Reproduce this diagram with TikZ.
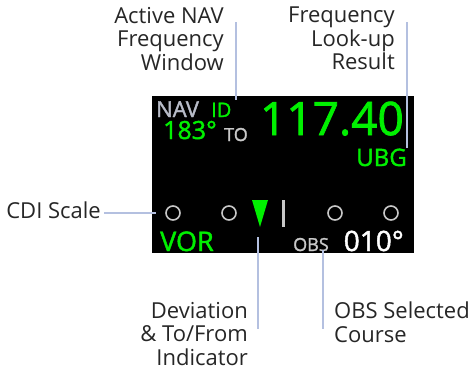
\documentclass[tikz,border=0pt]{standalone}
\usepackage{fontspec}
\setmainfont{Open Sans}
\newfontfamily\dispfont[BoldFont={Open Sans}, BoldFeatures={FakeBold=1.6}]{Open Sans}
\usepackage{xcolor}
\usepackage{tikz}
\usetikzlibrary{calc, positioning}
\definecolor{leaderblue}{RGB}{180, 192, 224}
\definecolor{navgreen}{RGB}{0, 240, 0}
\definecolor{navgrey}{RGB}{184, 188, 200}
\definecolor{dotgrey}{RGB}{200, 200, 200}

\begin{document}
\begin{tikzpicture}[x=1pt, y=-1pt, font=\fontsize{22}{23.5}\selectfont,
    callout/.style={inner sep=0pt, text=black!85},
    pointer/.style={line width=2.6pt, color=leaderblue},
    readout/.style={inner sep=0pt},
    cdidot/.style={circle, draw=dotgrey, line width=1.6pt, minimum size=14pt, inner sep=0pt}]
    \useasboundingbox (0, 0) rectangle (469, 372);

    % display window
    \fill[black] (152, 96) rectangle (414, 253);

    \node[readout, anchor=base west, navgrey, font=\dispfont\bfseries\fontsize{22}{22}\selectfont] (nav) at (156, 117) {NAV};
    \node[readout, anchor=base west, navgreen, font=\dispfont\bfseries\fontsize{20}{20}\selectfont] (ident) at (211, 117) {ID};
    \node[readout, anchor=base west, navgreen, font=\dispfont\bfseries\fontsize{25}{25}\selectfont] (radial) at (163, 139) {183°};
    \node[readout, anchor=base west, dotgrey, font=\dispfont\bfseries\fontsize{18}{18}\selectfont] (tofrom) at (224, 141) {TO};
    \node[readout, anchor=base east, navgreen, font=\dispfont\bfseries\fontsize{46}{46}\selectfont] (freq) at (404, 135) {117.40};
    \node[readout, anchor=base east, navgreen, font=\dispfont\bfseries\fontsize{24}{24}\selectfont] (ubg) at (407, 166) {UBG};
    \node[readout, anchor=base west, navgreen, font=\dispfont\bfseries\fontsize{27}{27}\selectfont] (vor) at (160, 251) {VOR};
    \node[readout, anchor=base west, dotgrey, font=\dispfont\bfseries\fontsize{18}{18}\selectfont] (obs) at (293, 251) {OBS};
    \node[readout, anchor=base east, white, font=\dispfont\bfseries\fontsize{28}{28}\selectfont] (course) at (404, 251) {010°};

    % CDI dots, needle and bar
    \foreach \cx [count=\i] in {173, 229, 335, 391}
        \node[cdidot] (c\i) at (\cx, 213) {};
    \fill[navgreen] (252, 200) -- (268, 200) -- (260, 227) -- cycle;
    \fill[dotgrey] (281.5, 200) rectangle (284.5, 227);

    % callouts
    \node[callout, anchor=north east, align=right] (activelbl) at (224, 7) {Active NAV\\Frequency\\Window};
    \node[callout, anchor=north east, align=right] (lookuplbl) at (395, 7) {Frequency\\Look-up\\Result};
    \node[callout, anchor=base east] (cdilbl) at (101, 218) {CDI Scale};
    \node[callout, anchor=north east, align=right] (devlbl) at (248, 302) {Deviation\\\& To/From\\Indicator};
    \node[callout, anchor=north west, align=left] (obslbl) at (334, 302) {OBS Selected\\Course};

    \coordinate (navtop) at (236, 22);
    \coordinate (navend) at (236, 100);
    \coordinate (lookuptop) at (407, 22);
    \coordinate (lookupend) at (407, 148);
    \coordinate (devtip) at (258, 237);
    \coordinate (devend) at (258, 329);
    \coordinate (obstip) at (323, 250);
    \coordinate (obsend) at (323, 329);

    \draw[pointer] (navtop) -- (navend);
    \draw[pointer] (lookuptop) -- (lookupend);
    \draw[pointer, shorten <=3pt, shorten >=9pt] (cdilbl.east |- c1.west) -- (c1.west);
    \draw[pointer] (devtip) -- (devend);
    \draw[pointer] (obstip) -- (obsend);
\end{tikzpicture}
\end{document}
